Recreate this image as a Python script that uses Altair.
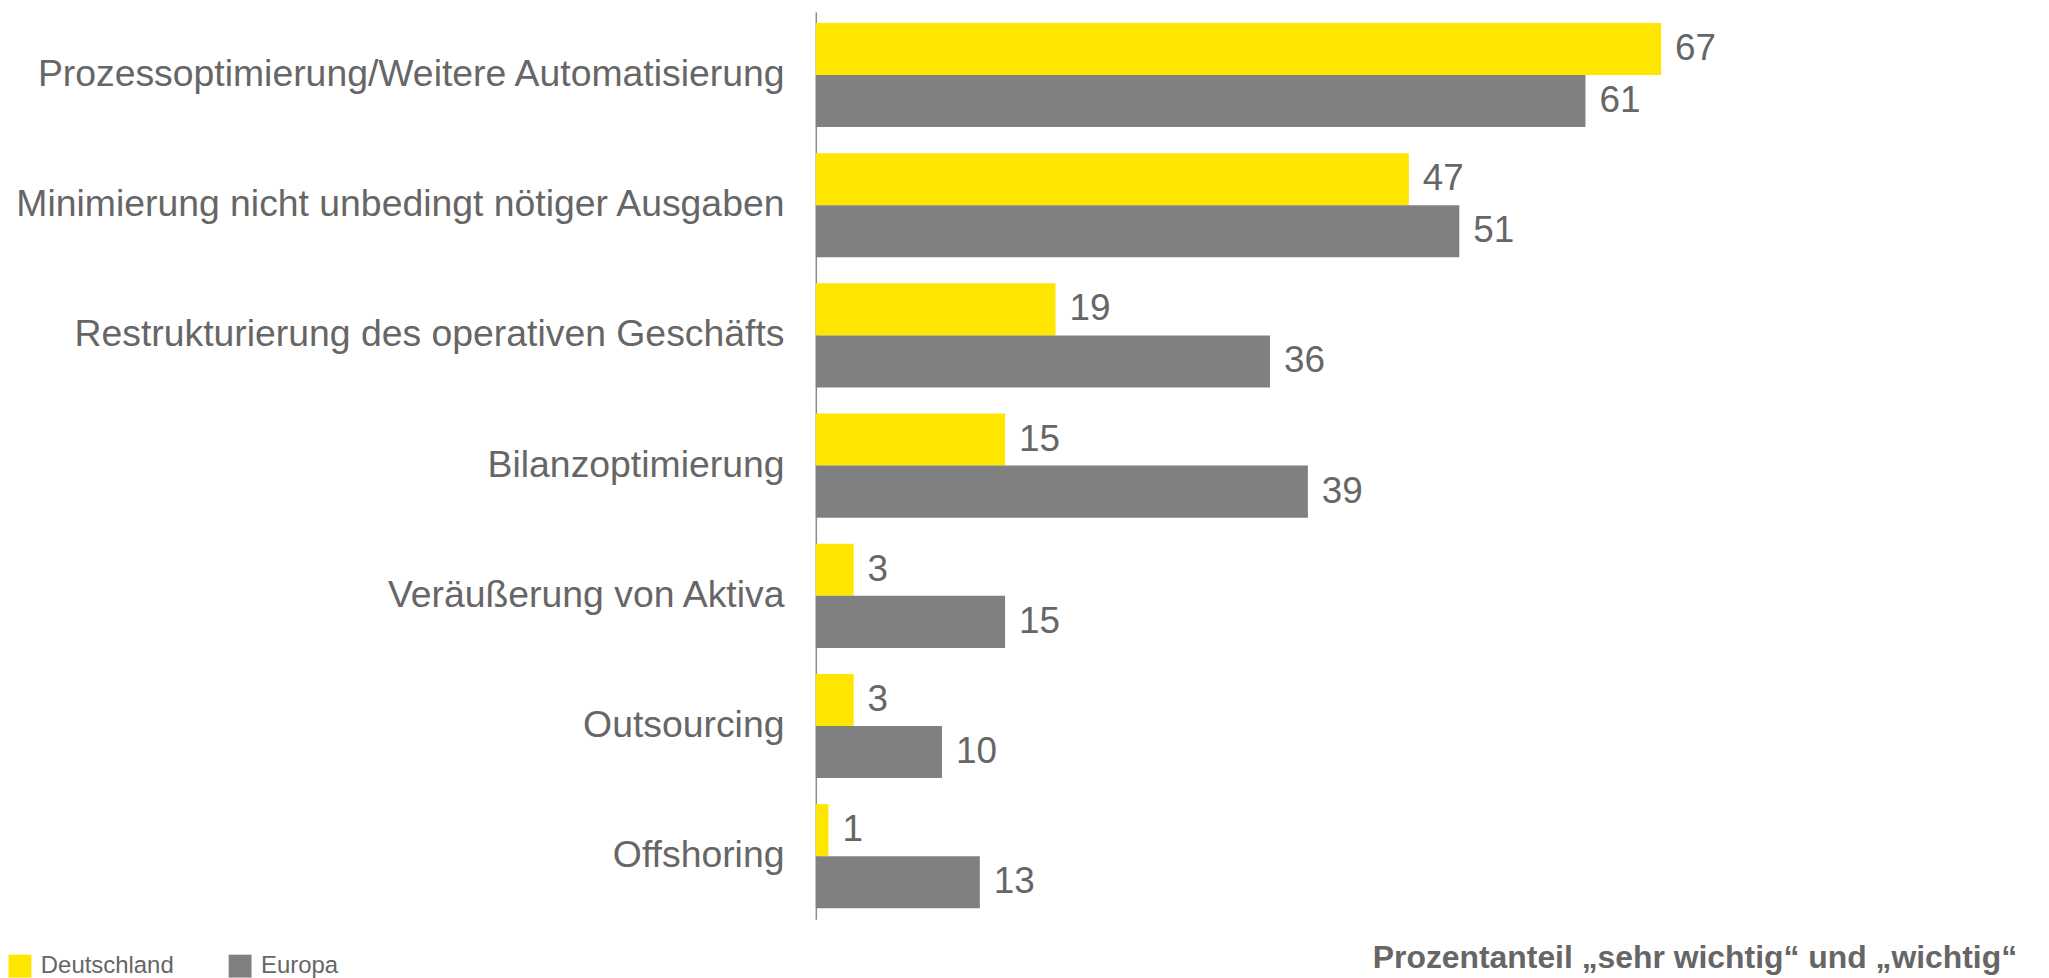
import altair as alt
import pandas as pd

categories = [
    "Prozessoptimierung/Weitere Automatisierung",
    "Minimierung nicht unbedingt nötiger Ausgaben",
    "Restrukturierung des operativen Geschäfts",
    "Bilanzoptimierung",
    "Veräußerung von Aktiva",
    "Outsourcing",
    "Offshoring",
]
deutschland = [67, 47, 19, 15, 3, 3, 1]
europa = [61, 51, 36, 39, 15, 10, 13]
series = ["Deutschland", "Europa"]
colors = ["#FFE600", "#808080"]
note = ["Prozentanteil \u201esehr wichtig\u201c und \u201ewichtig\u201c"]

FONT = "Liberation Sans, Arial, sans-serif"
TEXT = "#666666"

rows = []
for c, d, e in zip(categories, deutschland, europa):
    rows.append({"Kategorie": c, "Region": series[0], "Wert": d})
    rows.append({"Kategorie": c, "Region": series[1], "Wert": e})
df = pd.DataFrame(rows)

y = alt.Y(
    "Kategorie:N",
    sort=categories,
    scale=alt.Scale(paddingInner=0.2, paddingOuter=0.085),
    axis=alt.Axis(
        title=None,
        ticks=False,
        domainColor="#8c8c8c",
        domainWidth=1.5,
        labelFontSize=37.5,
        labelColor=TEXT,
        labelFont=FONT,
        labelPadding=32,
        labelLimit=1200,
    ),
)
y_off = alt.YOffset("Region:N", sort=series, scale=alt.Scale(paddingInner=0, paddingOuter=0))
x = alt.X("Wert:Q", scale=alt.Scale(domain=[0, 96], nice=False, zero=True), axis=None)

bars = alt.Chart(df).mark_bar().encode(
    x=x,
    y=y,
    yOffset=y_off,
    color=alt.Color(
        "Region:N",
        sort=series,
        scale=alt.Scale(domain=series, range=colors),
        legend=alt.Legend(
            title=None,
            orient="none",
            legendX=-811,
            legendY=946,
            direction="horizontal",
            symbolType="square",
            symbolSize=529,
            symbolStrokeWidth=0,
            labelFontSize=24,
            labelFont=FONT,
            labelColor=TEXT,
            labelOffset=9,
            columnPadding=54,
            padding=0,
        ),
    ),
)

labels = alt.Chart(df).mark_text(
    align="left", baseline="middle", dx=14, fontSize=37, font=FONT, color=TEXT
).encode(x=x, y=y, yOffset=y_off, text=alt.Text("Wert:Q"))

note_df = pd.DataFrame({"t": note})
note_layer = alt.Chart(note_df).mark_text(
    align="right", baseline="alphabetic", fontSize=32, fontWeight="bold", font=FONT, color=TEXT
).encode(x=alt.value(1206), y=alt.value(960), text="t:N")

chart = alt.layer(bars, labels, note_layer).properties(
    width=1216,
    height=911,
    autosize=alt.AutoSizeParams(type="none"),
    padding={"left": 811, "top": 2, "right": 14, "bottom": 58},
).configure_view(stroke=None)

chart.save("out.html", embed_options={"renderer": "svg", "actions": False})
